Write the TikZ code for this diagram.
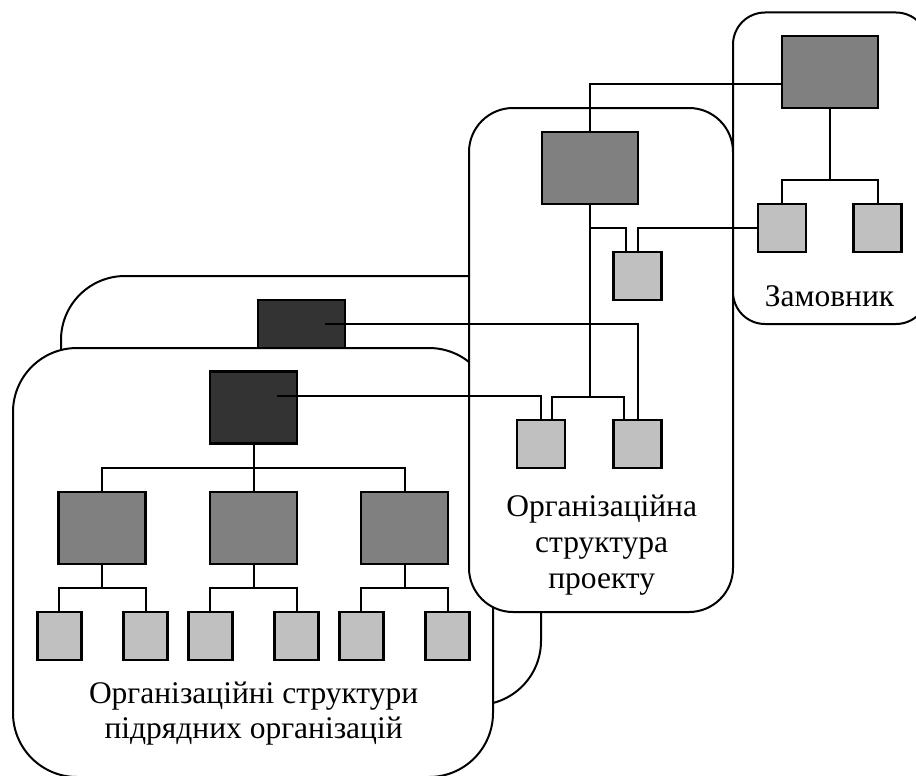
\documentclass[tikz,border=0pt]{standalone}
\usepackage{fontspec}
\setmainfont{Liberation Serif}
\usetikzlibrary{calc}
\definecolor{boxdark}{HTML}{333333}
\definecolor{boxmid}{HTML}{808080}
\definecolor{boxlight}{HTML}{C0C0C0}

\begin{document}
\begin{tikzpicture}[x=1pt,y=-1pt,
  panel/.style={draw=black, fill=white, line width=2pt, inner sep=0pt, outer sep=0pt},
  unit/.style={draw=black, line width=2.6pt, inner sep=0pt, outer sep=0pt},
  chief/.style={unit, fill=boxdark, minimum width=87pt, minimum height=72pt},
  dept/.style={unit, fill=boxmid, minimum width=87pt, minimum height=72pt},
  bigdept/.style={unit, fill=boxmid, minimum width=96pt, minimum height=72pt},
  cell/.style={unit, fill=boxlight, minimum width=44pt, minimum height=48pt},
  bigcell/.style={unit, fill=boxlight, minimum width=48pt, minimum height=48pt},
  conn/.style={draw=black, line width=2pt},
  lbl/.style={inner sep=0pt, anchor=base, font=\fontsize{31.5}{36}\selectfont}
]
\useasboundingbox (0,0) rectangle (916,776);

% rear subcontractor panel and its head unit
\node[panel, rounded corners=64pt, minimum width=480pt, minimum height=429pt] (subB) at (301,490.5) {};
\node[chief] (bd) at (301.5,336) {};

% front subcontractor panel
\node[panel, rounded corners=64pt, minimum width=480pt, minimum height=429pt] (subA) at (253,562.5) {};

% project panel
\node[panel, rounded corners=44pt, minimum width=264pt, minimum height=504pt] (proj) at (601,360) {};

% customer panel
\node[panel, rounded corners=32pt, minimum width=195pt, minimum height=311.5pt] (cust) at (830.5,168.25) {};

% customer units
\node[bigdept] (zd) at (830,72) {};
\node[bigcell] (zl1) at (782,228) {};
\node[bigcell] (zl2) at (877.5,228) {};

% project units
\node[bigdept] (pd) at (590,168) {};
\node[bigcell] (ps) at (637.5,276) {};
\node[bigcell] (pl1) at (541,444) {};
\node[bigcell] (pl2) at (637.5,444) {};

% front subcontractor units
\node[chief] (fd) at (253.5,407.5) {};
\node[dept] (fm1) at (102,528) {};
\node[dept] (fm2) at (253.5,528) {};
\node[dept] (fm3) at (404.6,528) {};
\node[cell] (fs1) at (59.3,636) {};
\node[cell] (fs2) at (145.7,636) {};
\node[cell] (fs3) at (210.2,636) {};
\node[cell] (fs4) at (296.6,636) {};
\node[cell] (fs5) at (361.3,636) {};
\node[cell] (fs6) at (447.7,636) {};

% customer connectors
\coordinate (zbus) at (830,180);
\draw[conn] ([yshift=-12pt]zd.west) -| (pd.north);
\draw[conn] (zd.south) -- (zbus);
\draw[conn] (zl1.north) |- (zbus) -| (zl2.north);
\draw[conn] (zl1.west) -| (ps.north);

% project connectors
\coordinate (pbus) at (590,396.5);
\draw[conn] (pd.south) -- (pbus);
\draw[conn] ([yshift=-24pt]pd.south) -| ([xshift=-11.5pt]ps.north);
\draw[conn] ([xshift=11pt]pl1.north) |- (pbus) -| ([xshift=-13.5pt]pl2.north);

% subcontractor heads to project units
\draw[conn] ([xshift=23.5pt,yshift=11.5pt]fd.center) -| (pl1.north);
\draw[conn] ([xshift=23.5pt,yshift=12pt]bd.center) -| (pl2.north);

% front subcontractor tree
\coordinate (fbus) at (253.5,467.7);
\draw[conn] (fd.south) -- (fm2.north);
\draw[conn] (fm1.north) |- (fbus) -| (fm3.north);
\foreach \m/\a/\b in {fm1/fs1/fs2, fm2/fs3/fs4, fm3/fs5/fs6} {
  \draw[conn] (\m.south) -- ++(0,23.6);
  \draw[conn] (\a.north) |- ($(\m.south)+(0,23.6)$) -| (\b.north);
}

% labels
\node[lbl] (tz) at (829.5,306) {Замовник};
\node[lbl] (tp1) at (601.7,516.5) {Організаційна};
\node[lbl] (tp2) at (601.7,552.5) {структура};
\node[lbl] (tp3) at (601.7,588.5) {проекту};
\node[lbl] (ts1) at (253.6,703.3) {Організаційні структури};
\node[lbl] (ts2) at (253.6,738.3) {підрядних організацій};
\end{tikzpicture}
\end{document}
